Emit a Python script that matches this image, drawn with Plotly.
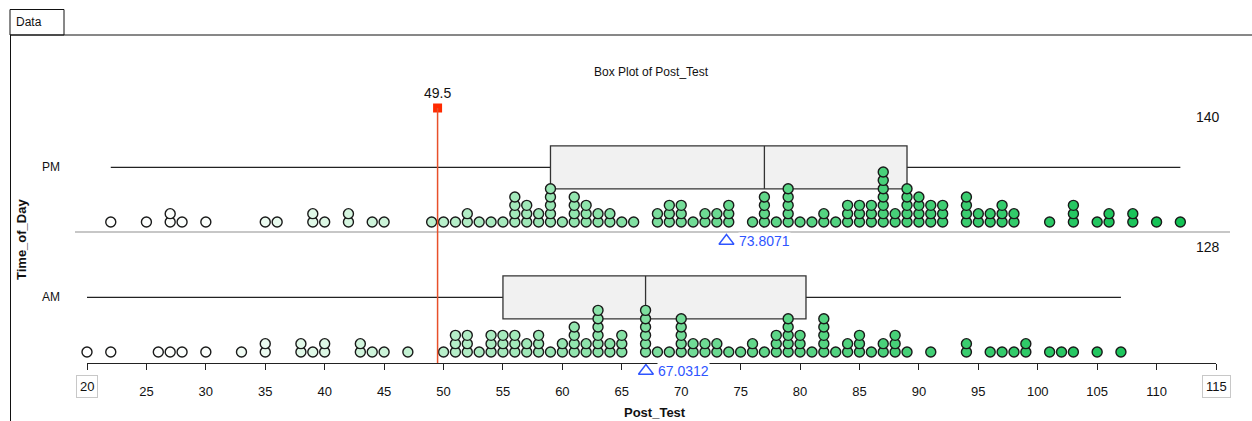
import plotly.graph_objects as go

# ---------------- data ----------------
groups = ["AM", "PM"]
pm_values = [22, 25, 27, 28, 30, 35, 36, 39, 40, 42, 44, 45,
             49, 50, 51, 52, 53, 54, 55, 56, 57, 58, 59, 60, 61, 62, 63, 64, 65, 66,
             68, 69, 70, 71, 72, 73, 74,
             76, 77, 78, 79, 80, 81, 82, 83, 84, 85, 86, 87, 88, 89, 90, 91, 92,
             94, 95, 96, 97, 98, 101, 103, 105, 106, 108, 110, 112]
pm_counts = [1, 1, 2, 1, 1, 1, 1, 2, 1, 2, 1, 1,
             1, 1, 1, 2, 1, 1, 1, 4, 3, 2, 5, 1, 4, 3, 2, 2, 1, 1,
             2, 3, 3, 1, 2, 2, 3,
             1, 4, 1, 5, 1, 1, 2, 1, 3, 3, 3, 7, 2, 5, 4, 3, 3,
             4, 2, 2, 3, 2, 1, 3, 1, 2, 2, 1, 1]
am_values = [20, 22, 26, 27, 28, 30, 33, 35, 38, 39, 40, 43, 44, 45, 47,
             50, 51, 52, 53, 54, 55, 56, 57, 58, 59, 60, 61, 62, 63, 64, 65, 67, 68,
             69, 70, 71, 72, 73, 74, 75, 76, 77, 78, 79, 80, 81, 82, 83, 84, 85, 86, 87, 88, 89, 91,
             94, 96, 97, 98, 99, 101, 102, 103, 105, 107]
am_counts = [1, 1, 1, 1, 1, 1, 1, 2, 2, 1, 2, 2, 1, 1, 1,
             1, 3, 3, 1, 3, 3, 3, 2, 3, 1, 2, 4, 2, 6, 2, 3, 6, 1,
             1, 5, 2, 2, 2, 1, 1, 2, 1, 3, 5, 3, 1, 5, 1, 2, 3, 1, 2, 3, 1, 1,
             2, 1, 1, 1, 2, 1, 1, 1, 1, 1]
cutoff_value = 49.5
x_ticks = list(range(20, 116, 5))

# ---------------- helpers ----------------
W, H = 1252, 421
ML, MR, MT, MB = 87, 36, 40, 30
PW, PH = W - ML - MR, H - MT - MB
AXIS_PY = 363          # pixel row of the x axis line
ROW_PX = 130.0         # pixels between AM and PM baselines
AM_BASE_PY = 352


def xp(px):
    return (px - ML) / PW


def yp(py):
    return (H - MB - py) / PH


def yd(py):
    return (AM_BASE_PY - py) / ROW_PX


def expand(vals, cnts):
    out = []
    for v, c in zip(vals, cnts):
        out += [v] * c
    return out


def med(a):
    n = len(a)
    return a[n // 2] if n % 2 else (a[n // 2 - 1] + a[n // 2]) / 2


def stats(a):
    a = sorted(a)
    n = len(a)
    lo, hi = a[:n // 2], a[(n + 1) // 2:]
    return min(a), med(lo), med(a), med(hi), max(a), sum(a) / n


stops = [(20, (255, 255, 255)), (30, (250, 254, 251)), (42, (214, 246, 224)),
         (56, (162, 233, 186)), (75, (100, 216, 140)), (112, (18, 194, 84))]


def dot_color(v):
    for (a, ca), (b, cb) in zip(stops[:-1], stops[1:]):
        if v <= b:
            t = max(0.0, (v - a) / (b - a))
            c = [round(ca[i] + (cb[i] - ca[i]) * t) for i in range(3)]
            return f"rgb({c[0]},{c[1]},{c[2]})"
    c = stops[-1][1]
    return f"rgb({c[0]},{c[1]},{c[2]})"


DY = 8.33 / ROW_PX
BOX_OFF, BOX_HALF = 0.42, 0.165
FONT = "Liberation Sans, Arial, sans-serif"


def label(x, y, text, size=12, color="#111", xref="paper", yref="paper",
          xanchor="center", **kw):
    return dict(xref=xref, yref=yref, x=x, y=y, text=text, showarrow=False,
                xanchor=xanchor, yanchor="middle",
                font=dict(size=size, color=color, family=FONT), **kw)


fig = go.Figure()
shapes = []
annotations = []

data = {"AM": (am_values, am_counts), "PM": (pm_values, pm_counts)}
count_py = {"PM": 117, "AM": 247}
for row, g in enumerate(groups):
    vals, cnts = data[g]
    xs, ys, cs = [], [], []
    for level in range(max(cnts)):
        for v, c in zip(vals, cnts):
            if c > level:
                xs.append(v)
                ys.append(row + level * DY)
                cs.append(dot_color(v))
    fig.add_trace(go.Scatter(
        x=xs, y=ys, mode="markers", cliponaxis=False, showlegend=False,
        marker=dict(size=10, color=cs, line=dict(color="#1a1a1a", width=1.4)),
        hoverinfo="x"))

    allv = expand(vals, cnts)
    mn, q1, md, q3, mx, mean = stats(allv)
    yc = row + BOX_OFF
    shapes.append(dict(type="line", xref="x", yref="y", x0=mn, x1=mx, y0=yc, y1=yc,
                       line=dict(color="#222", width=1.3), layer="below"))
    shapes.append(dict(type="rect", xref="x", yref="y", x0=q1, x1=q3,
                       y0=yc - BOX_HALF, y1=yc + BOX_HALF, fillcolor="#f1f1f1",
                       line=dict(color="#333", width=1.3), layer="below"))
    shapes.append(dict(type="line", xref="x", yref="y", x0=md, x1=md,
                       y0=yc - BOX_HALF, y1=yc + BOX_HALF,
                       line=dict(color="#333", width=1.3), layer="below"))
    annotations.append(label(xp(51), yc, g, yref="y"))
    annotations.append(label(xp(1222), yd(count_py[g]), str(len(allv)), size=14,
                             yref="y", xanchor="right"))
    # mean marker and label
    my = row - 0.146
    fig.add_trace(go.Scatter(
        x=[mean], y=[my], mode="markers", cliponaxis=False, showlegend=False,
        marker=dict(symbol="triangle-up-open", size=13, color="#2f55ff",
                    line=dict(color="#2f55ff", width=1.4)), hoverinfo="skip"))
    annotations.append(label(mean + 0.95, my, f"{mean:.4f}", size=14, color="#2f55ff",
                             xref="x", yref="y", xanchor="left",
                             bgcolor="white", borderpad=0))

# separator line
shapes.append(dict(type="line", xref="paper", yref="y", x0=xp(75), x1=xp(1230),
                   y0=yd(232), y1=yd(232), line=dict(color="#b4b4b4", width=1.5), layer="below"))

# cutoff red line + square
shapes.append(dict(type="line", xref="x", yref="y", x0=cutoff_value, x1=cutoff_value,
                   y0=yd(AXIS_PY), y1=yd(108), line=dict(color="#e8502a", width=1.5)))
fig.add_trace(go.Scatter(x=[cutoff_value], y=[yd(108)], mode="markers", cliponaxis=False,
                         showlegend=False, hoverinfo="skip",
                         marker=dict(symbol="square", size=9, color="#ff2a00",
                                     line=dict(width=0))))
annotations.append(label(cutoff_value, yd(93), f"{cutoff_value}", size=14,
                         xref="x", yref="y"))

# frame / tab
shapes.append(dict(type="rect", xref="paper", yref="paper", x0=xp(10), x1=xp(64),
                   y0=yp(35), y1=yp(9.5), line=dict(color="#111", width=1)))
shapes.append(dict(type="line", xref="paper", yref="paper", x0=xp(10), x1=xp(1252),
                   y0=yp(35), y1=yp(35), line=dict(color="#111", width=1)))
shapes.append(dict(type="line", xref="paper", yref="paper", x0=xp(10.5), x1=xp(10.5),
                   y0=yp(35), y1=yp(421), line=dict(color="#111", width=1)))
annotations.append(label(xp(14), yp(22), "Data", xanchor="left"))

# titles
annotations.append(label(xp(651), yp(72), "Box Plot of Post_Test"))
annotations.append(label(xp(655), yp(412), "<b>Post_Test</b>", size=13))
annotations.append(label(xp(21), yp(240), "<b>Time_of_Day</b>", size=13, textangle=-90))

# boxed end tick labels
for v in (x_ticks[0], x_ticks[-1]):
    annotations.append(label(v, yp(386), str(v), size=13, xref="x",
                             bordercolor="#c8c8c8", borderwidth=1, borderpad=3))

ticktext = ["" if v in (x_ticks[0], x_ticks[-1]) else str(v) for v in x_ticks]

fig.update_layout(
    width=W, height=H, margin=dict(l=ML, r=MR, t=MT, b=MB, pad=0),
    paper_bgcolor="white", plot_bgcolor="white", showlegend=False,
    shapes=shapes, annotations=annotations,
    xaxis=dict(range=[20, 115], showgrid=False, zeroline=False, showline=True,
               anchor="free", position=yp(AXIS_PY),
               linecolor="#222", linewidth=1, ticks="outside", ticklen=6,
               tickcolor="#222", tickvals=x_ticks, ticktext=ticktext,
               ticklabelstandoff=10,
               tickfont=dict(size=13, color="#111", family=FONT)),
    yaxis=dict(range=[yd(H - MB), yd(MT)], visible=False,
               showgrid=False, zeroline=False),
)

fig.write_html("out.html", config={"displayModeBar": False},
               post_script="document.body.style.margin='0';document.body.style.padding='0';")
